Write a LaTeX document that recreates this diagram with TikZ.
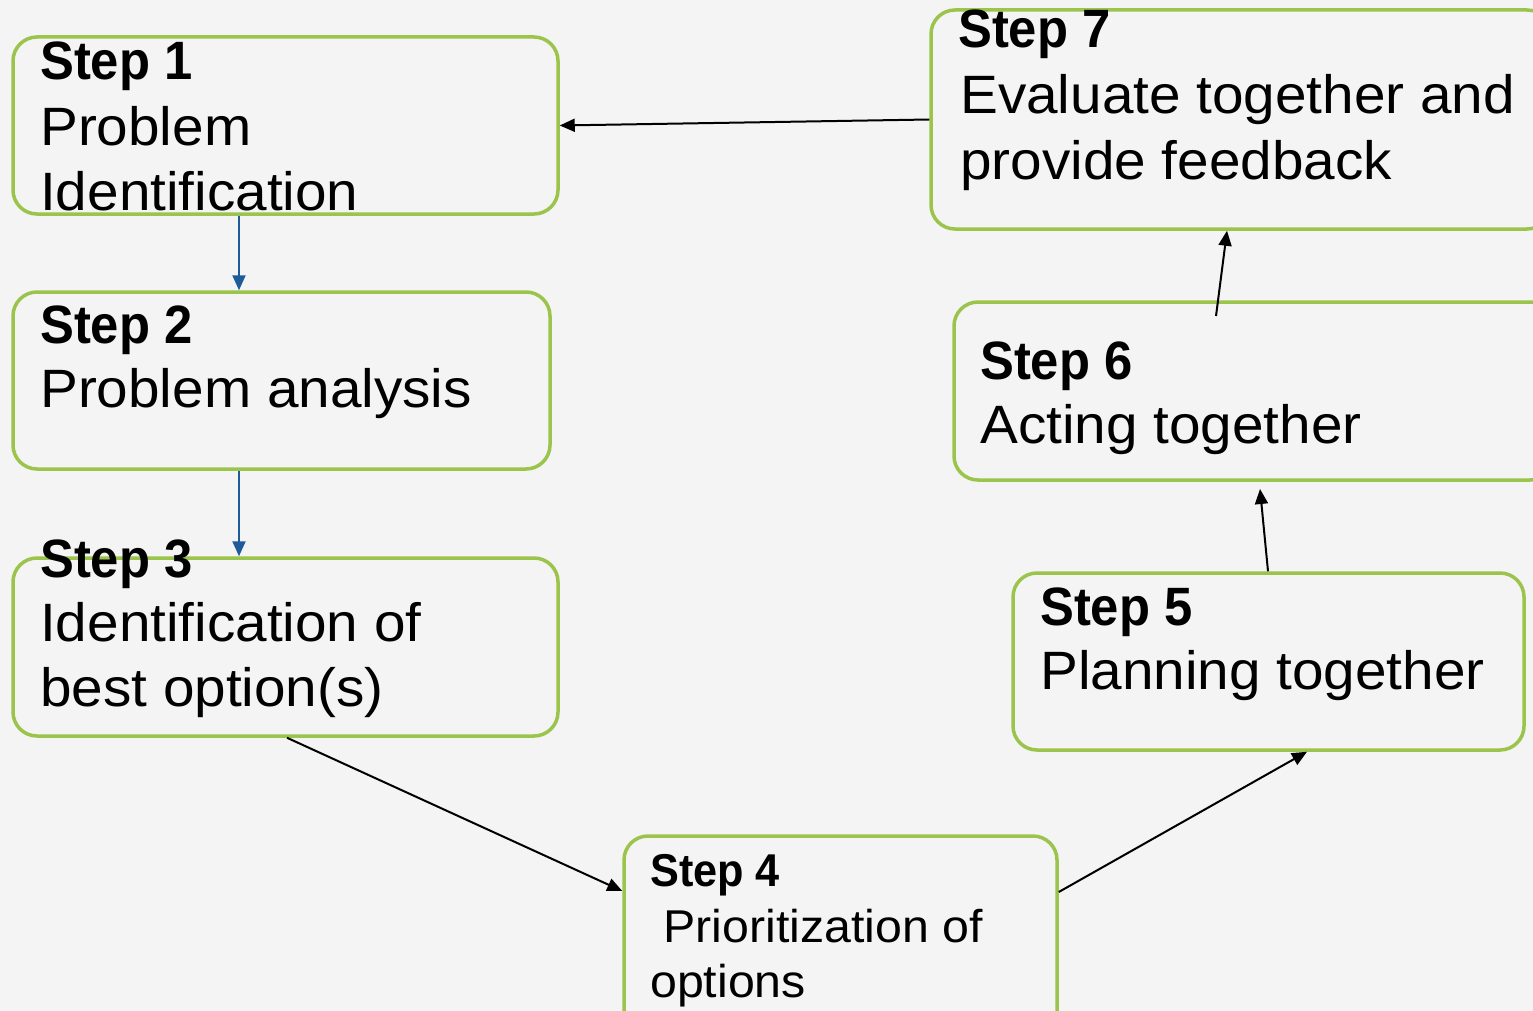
\documentclass[tikz,border=0pt]{standalone}
\usepackage{fontspec}
\setmainfont{Liberation Sans}[FakeStretch=1.05,BoldFeatures={FakeStretch=0.94}]
\usetikzlibrary{arrows.meta}
\definecolor{bgc}{HTML}{F4F4F4}
\definecolor{boxg}{HTML}{9BC44C}
\definecolor{arrb}{HTML}{1F5A9A}
\begin{document}
\begin{tikzpicture}[x=1pt,y=-1pt,
  stepbox/.style={draw=boxg,line width=3.5pt,rounded corners=24pt,inner sep=0pt},
  big/.style={anchor=base west,inner sep=0pt,font=\fontsize{54}{64}\selectfont},
  bigb/.style={big,font=\fontsize{54}{64}\selectfont\bfseries},
  small/.style={anchor=base west,inner sep=0pt,font=\fontsize{46}{55}\selectfont},
  smallb/.style={small,font=\fontsize{46}{55}\selectfont\bfseries},
  blarrow/.style={draw=arrb,line width=2pt,-{Triangle[length=15pt,width=13pt]}},
  bkarrow/.style={draw=black,line width=2pt,-{Triangle[length=15pt,width=13pt]}}]
\useasboundingbox (0,0) rectangle (1533,1011);
\clip (0,0) rectangle (1533,1011);
\fill[bgc] (0,0) rectangle (1533,1011);
% boxes
\node[stepbox,minimum width=545pt,minimum height=177pt] (s1) at (285.5,125.5) {};
\node[stepbox,minimum width=537pt,minimum height=177pt] (s2) at (281.5,380.5) {};
\node[stepbox,minimum width=545pt,minimum height=178pt] (s3) at (285.5,647) {};
\node[stepbox,minimum width=433pt,minimum height=200pt] (s4) at (840.5,936) {};
\node[stepbox,minimum width=511pt,minimum height=177pt] (s5) at (1268.5,661.5) {};
\node[stepbox,minimum width=600pt,minimum height=178pt] (s6) at (1254,391) {};
\node[stepbox,minimum width=620pt,minimum height=219pt] (s7) at (1241,119.5) {};
% text
\node[bigb] (t1a) at (40,80) {Step 1};
\node[big] (t1b) at (40,146) {Problem};
\node[big] (t1c) at (40,211) {Identification};
\node[bigb] (t2a) at (40,343) {Step 2};
\node[big] (t2b) at (40,407) {Problem analysis};
\node[bigb] (t3a) at (40,577) {Step 3};
\node[big] (t3b) at (40,641) {Identification of};
\node[big] (t3c) at (40,706) {best option(s)};
\node[smallb] (t4a) at (650,886) {Step 4};
\node[small] (t4b) at (650,942) {\ Prioritization of};
\node[small] (t4c) at (650,997) {options};
\node[bigb] (t5a) at (1040,625) {Step 5};
\node[big] (t5b) at (1040,689) {Planning together};
\node[bigb] (t6a) at (980,379) {Step 6};
\node[big] (t6b) at (980,443) {Acting together};
\node[bigb] (t7a) at (958,48) {Step 7};
\node[big] (t7b) at (960,114) {Evaluate together and};
\node[big] (t7c) at (960,179) {provide feedback};
% arrows
\draw[blarrow] (s1.south -| 239,0) -- (s2.north -| 239,0);
\draw[blarrow] (s2.south -| 239,0) -- (s3.north -| 239,0);
\draw[bkarrow] (s7.west) -- (s1.east);
\draw[bkarrow] (s3.south -| 287,0) -- (s4.west |- 0,891);
\draw[bkarrow] (s4.east |- 0,892) -- (s5.south -| 1307,0);
\draw[bkarrow] (s5.north -| 1268,0) -- (1260,489);
\draw[bkarrow] (1216,316) -- (s7.south -| 1227,0);
\end{tikzpicture}
\end{document}
